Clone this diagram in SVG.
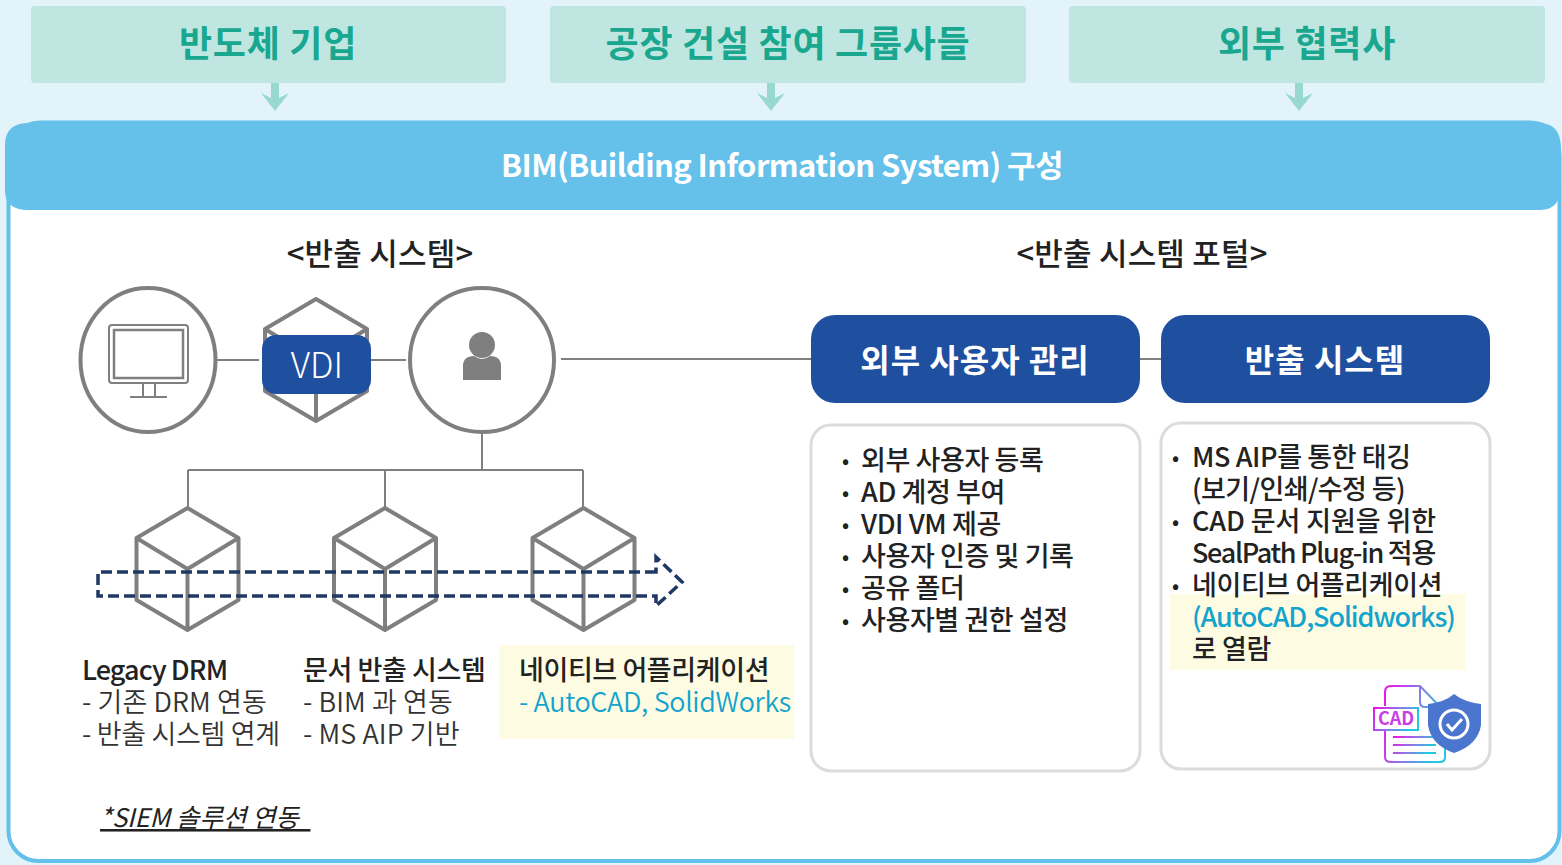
<svg xmlns="http://www.w3.org/2000/svg" width="1562" height="865" viewBox="0 0 1562 865">
<defs>
<style>
text{font-family:"Noto Sans CJK KR","Noto Sans",sans-serif;}
.top{font-size:36px;font-weight:700;fill:#1aa78f;text-anchor:middle;letter-spacing:0.7px;}
.t{font-size:27px;fill:#222;font-weight:500;letter-spacing:-0.4px;}
.s{font-size:27px;fill:#333;font-weight:350;letter-spacing:0.1px;}
.b{font-size:32px;font-weight:700;fill:#fff;text-anchor:middle;letter-spacing:1px;}
.h{font-size:31px;font-weight:500;fill:#222;text-anchor:middle;letter-spacing:0.2px;}
.c{fill:#fff;stroke:#7f7f7f;stroke-width:4;}
.l{fill:none;stroke:#7f7f7f;stroke-width:2;}
.cube{fill:none;stroke:#7f7f7f;stroke-width:4;stroke-linejoin:round;}
.card{fill:#fff;stroke:#dcdcdc;stroke-width:3;}
.hl{fill:#fdfce3;}
.bt{fill:#1f4f9f;}
.ar{fill:#97d9cf;}
.blue{fill:#14a3cc;}
.dot{font-size:20px;}
</style>
<linearGradient id="g" x1="0" y1="0" x2="1" y2="0.3"><stop offset="0" stop-color="#f010e8"/><stop offset="0.55" stop-color="#8a7be8"/><stop offset="1" stop-color="#20c8e0"/></linearGradient>
<g id="cube"><path class="cube" d="M0-61L51-31V31L0 61L-51 31V-31ZM-51-31L0 0L51-31M0 0V61"/></g>
</defs>
<rect width="1562" height="865" fill="#e2f3fa"/>
<rect x="8.500" y="125" width="1551" height="736" rx="30" fill="#fff" stroke="#63c0ea" stroke-width="4"/>

<g id="top-1"><rect x="31" y="6" width="475" height="77" rx="4" fill="#bfe6e1"/><text class="top" x="268" y="57">반도체 기업</text><path class="ar" d="M271 83h8v15l10-5-14 18-14-18 10 5z"/></g>
<g id="top-2"><rect x="550" y="6" width="476" height="77" rx="4" fill="#bfe6e1"/><text class="top" x="788" y="57">공장 건설 참여 그룹사들</text><path class="ar" d="M767 83h8v15l10-5-14 18-14-18 10 5z"/></g>
<g id="top-3"><rect x="1069" y="6" width="476" height="77" rx="4" fill="#bfe6e1"/><text class="top" x="1307" y="57">외부 협력사</text><path class="ar" d="M1295 83h8v15l10-5-14 18-14-18 10 5z"/></g>

<g id="bim"><path d="M40 120.500H1530Q1540 121 1546 124Q1561 127 1561 150V185Q1561 210 1540 210H28Q5 210 5 190V145Q5 124 27 123Q33 120.500 40 120.500Z" fill="#65c0ea"/>
<text x="782" y="177" font-size="31" font-weight="700" fill="#fff" text-anchor="middle" letter-spacing="-0.600">BIM(Building Information System) 구성</text></g>

<text class="h" x="380" y="265">&lt;반출 시스템&gt;</text>
<text class="h" x="1142" y="265">&lt;반출 시스템 포털&gt;</text>

<g id="connectors">
<path class="l" d="M217 360H259M371 360H406M561 359H812M1140 359H1161"/>
<path class="l" d="M482 432V470M188 470H583M188 470V508M385 470V508M583 470V508" />
</g>

<g id="pc"><ellipse class="c" cx="148" cy="360" rx="67.500" ry="72"/>
<g fill="none" stroke="#7f7f7f" stroke-width="2"><rect x="109" y="325" width="79" height="58" rx="3"/><rect x="114" y="330" width="69" height="48" stroke-width="2.500"/><path d="M143 384V396M155 384V396M130 397H167"/></g></g>
<g id="vdi"><use href="#cube" x="316" y="360"/><rect class="bt" x="262" y="335" width="109" height="59" rx="14"/><text x="317" y="378" font-size="35" fill="#fff" text-anchor="middle" font-weight="300">VDI</text></g>
<g id="user"><circle class="c" cx="482" cy="360" r="72"/><circle cx="482" cy="345" r="13" fill="#7f7f7f"/><path d="M463 380V366Q463 356 474 356Q482 362 490 356Q501 356 501 366V380Z" fill="#7f7f7f"/></g>

<g id="cube-1"><use href="#cube" x="187.500" y="569"/></g>
<g id="cube-2"><use href="#cube" x="385" y="569"/></g>
<g id="cube-3"><use href="#cube" x="583.500" y="569"/></g>
<g id="pipe"><path d="M656 572H98V596H656V606L682 582L656 557Z" fill="none" stroke="#1f3864" stroke-width="3.500" stroke-dasharray="11 5"/></g>

<g id="legacy"><text class="t" x="82" y="680" style="letter-spacing:-0.9px">Legacy DRM</text><text class="s" x="82" y="712">- 기존 DRM 연동</text><text class="s" x="82" y="744" style="letter-spacing:-0.3px">- 반출 시스템 연계</text></g>
<g id="doc"><text class="t" x="303" y="680">문서 반출 시스템</text><text class="s" x="303" y="712">- BIM 과 연동</text><text class="s" x="303" y="744">- MS AIP 기반</text></g>
<g id="native"><rect class="hl" x="499" y="645" width="295" height="94"/><text class="t" x="519" y="680">네이티브 어플리케이션</text><text class="s blue" x="519" y="712" style="letter-spacing:-0.35px">- AutoCAD, SolidWorks</text></g>

<text x="100" y="827" font-size="25.500" font-style="italic" fill="#222" style="white-space:pre;letter-spacing:0" text-decoration="underline">*SIEM 솔루션 연동  </text>

<g id="n-ext"><rect class="bt" x="811" y="315" width="329" height="88" rx="24"/><text class="b" x="975" y="372">외부 사용자 관리</text></g>
<g id="n-exp"><rect class="bt" x="1161" y="315" width="329" height="88" rx="24"/><text class="b" x="1325" y="372">반출 시스템</text></g>

<g id="card-1"><rect class="card" x="811" y="425" width="329" height="346" rx="20"/>
<text class="t"><tspan x="842" y="468" class="dot">•</tspan><tspan x="861" y="470">외부 사용자 등록</tspan><tspan x="842" y="500" class="dot">•</tspan><tspan x="861" y="502">AD 계정 부여</tspan><tspan x="842" y="532" class="dot">•</tspan><tspan x="861" y="534">VDI VM 제공</tspan><tspan x="842" y="564" class="dot">•</tspan><tspan x="861" y="566">사용자 인증 및 기록</tspan><tspan x="842" y="596" class="dot">•</tspan><tspan x="861" y="598">공유 폴더</tspan><tspan x="842" y="628" class="dot">•</tspan><tspan x="861" y="630">사용자별 권한 설정</tspan></text></g>

<g id="card-2"><rect class="card" x="1161" y="423" width="329" height="346" rx="20"/>
<rect class="hl" x="1170" y="594" width="295" height="76"/>
<text class="t"><tspan x="1172" y="465" class="dot">•</tspan><tspan x="1192" y="467">MS AIP를 통한 태깅</tspan><tspan x="1192" y="499" style="letter-spacing:-0.600px">(보기/인쇄/수정 등)</tspan><tspan x="1172" y="529" class="dot">•</tspan><tspan x="1192" y="531" style="letter-spacing:-0.100px">CAD 문서 지원을 위한</tspan><tspan x="1192" y="563" style="letter-spacing:-1.300px">SealPath Plug-in 적용</tspan><tspan x="1172" y="593" class="dot">•</tspan><tspan x="1192" y="595">네이티브 어플리케이션</tspan><tspan x="1192" y="627" class="blue" style="letter-spacing:-1.100px">(AutoCAD,Solidworks)</tspan><tspan x="1192" y="659">로 열람</tspan></text>
<g id="cad-icon"><path d="M1385 706V692Q1385 686 1391 686H1420L1445 712V757Q1445 762 1440 762H1391Q1385 762 1385 757V730M1420 686V702Q1420 707 1425 707H1445" fill="none" stroke="url(#g)" stroke-width="2"/>
<rect x="1374" y="708" width="44" height="22" fill="#fff" stroke="url(#g)" stroke-width="2"/>
<text x="1396" y="725" font-size="18" font-weight="700" fill="#c93de6" text-anchor="middle">CAD</text>
<path d="M1393 737H1436M1393 745H1436M1393 753H1436" stroke="url(#g)" stroke-width="2"/>
<path d="M1454 694Q1464 702 1481 704V725Q1478 745 1454 753Q1431 745 1428 725V704Q1445 702 1454 694Z" fill="#4a76cf"/>
<circle cx="1454" cy="724" r="14" fill="none" stroke="#fff" stroke-width="3"/><path d="M1447 724L1452 730L1462 719" fill="none" stroke="#fff" stroke-width="3"/></g></g>
</svg>
